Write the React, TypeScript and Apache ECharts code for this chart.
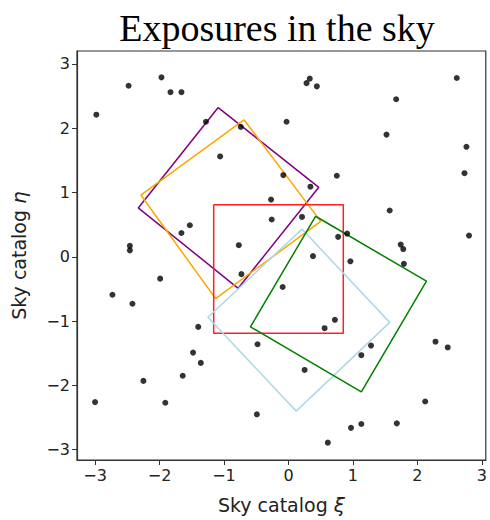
import React, { useEffect, useRef } from "react";
import * as echarts from "echarts";

const xTicks = [-3, -2, -1, 0, 1, 2, 3];
const yTicks = [-3, -2, -1, 0, 1, 2, 3];

const stars: [number, number][] = [
  [-2.98, 2.21], [-2.48, 2.66], [-1.97, 2.79], [-1.83, 2.56], [-1.66, 2.56],
  [-1.28, 2.10], [-0.74, 2.02], [-1.06, 1.56], [-0.27, 0.89], [-0.26, 0.58],
  [-1.53, 0.49], [-1.66, 0.37], [-2.46, 0.17], [-2.46, 0.10], [-0.77, 0.18],
  [0.33, 2.77], [0.28, 2.70], [0.44, 2.65], [2.61, 2.78], [1.67, 2.45],
  [-0.03, 2.10], [1.52, 1.90], [2.76, 1.71], [2.73, 1.30], [-0.08, 1.27],
  [0.75, 1.26], [0.34, 1.09], [0.21, 0.62], [1.57, 0.72], [0.77, 0.31],
  [0.91, 0.36], [2.80, 0.33], [1.74, 0.19], [1.78, 0.12], [0.38, 0.01],
  [-1.99, -0.34], [-2.73, -0.59], [-2.42, -0.73], [-0.73, -0.27], [-1.40, -1.09],
  [-1.48, -1.49], [-1.36, -1.65], [-1.64, -1.85], [-2.25, -1.93], [-3.0, -2.26],
  [-1.91, -2.27], [-0.48, -1.36], [-0.49, -2.45], [0.96, -0.07], [1.79, -0.11],
  [-0.09, -0.47], [0.72, -0.98], [0.56, -1.11], [1.28, -1.38], [1.13, -1.53],
  [2.28, -1.32], [2.47, -1.41], [0.25, -1.76], [2.12, -2.25], [1.13, -2.60],
  [0.97, -2.66], [1.68, -2.59], [0.61, -2.89],
];

const purpleFootprint: [number, number][] = [[-1.09, 2.32], [0.47, 1.08], [-0.78, -0.49], [-2.33, 0.76]];
const orangeFootprint: [number, number][] = [[-0.69, 2.13], [0.50, 0.55], [-1.13, -0.65], [-2.29, 0.96]];
const redFootprint: [number, number][] = [[-1.16, 0.81], [0.85, 0.81], [0.85, -1.19], [-1.16, -1.19]];
const lightblueFootprint: [number, number][] = [[0.21, 0.43], [1.57, -1.02], [0.12, -2.40], [-1.25, -0.94]];
const greenFootprint: [number, number][] = [[0.42, 0.63], [2.14, -0.38], [1.13, -2.10], [-0.59, -1.09]];

const footprints = [
  { name: "purple", color: "#800080", pts: purpleFootprint },
  { name: "orange", color: "#FFA500", pts: orangeFootprint },
  { name: "red", color: "#FF2020", pts: redFootprint },
  { name: "lightblue", color: "#ADD8E6", pts: lightblueFootprint },
  { name: "green", color: "#008000", pts: greenFootprint },
];

const fmt = (v: number) => String(v).replace("-", "\u2212");

export default function App() {
  const ref = useRef<HTMLDivElement>(null);
  useEffect(() => {
    if (!ref.current) return;
    const chart = echarts.init(ref.current, null, { renderer: "svg" });
    const sans = "DejaVu Sans";
    chart.setOption({
      animation: false,
      backgroundColor: "#fff",
      title: {
        text: "Exposures in the sky",
        left: 272,
        textAlign: "center",
        top: 4,
        textStyle: { fontFamily: "Liberation Serif", fontSize: 38, fontWeight: "normal", color: "#000" },
      },
      grid: { left: 77, top: 51, width: 410, height: 412, show: true, borderColor: "#333", borderWidth: 1.2, backgroundColor: "transparent" },
      xAxis: {
        type: "value",
        min: -3.28,
        max: 3.06,
        name: "Sky catalog {i|ξ}",
        nameLocation: "middle",
        nameGap: 35,
        nameTextStyle: { fontFamily: sans, fontSize: 19, color: "#222", rich: { i: { fontFamily: sans, fontSize: 20, fontStyle: "italic", color: "#222" } } },
        splitLine: { show: false },
        axisLine: { show: true, onZero: false, lineStyle: { color: "#333", width: 1.2 } },
        axisTick: { show: true, length: 5, customValues: xTicks, lineStyle: { color: "#333" } },
        axisLabel: { customValues: xTicks, formatter: (v: number) => fmt(v), fontFamily: sans, fontSize: 16, color: "#222", margin: 7 },
      },
      yAxis: {
        type: "value",
        min: -3.16,
        max: 3.2,
        name: "Sky catalog {i|η}",
        nameLocation: "middle",
        nameRotate: 90,
        nameGap: 48,
        nameTextStyle: { fontFamily: sans, fontSize: 19, color: "#222", rich: { i: { fontFamily: sans, fontSize: 20, fontStyle: "italic", color: "#222" } } },
        splitLine: { show: false },
        axisLine: { show: true, onZero: false, lineStyle: { color: "#333", width: 1.2 } },
        axisTick: { show: true, length: 5, customValues: yTicks, lineStyle: { color: "#333" } },
        axisLabel: { customValues: yTicks, formatter: (v: number) => fmt(v), fontFamily: sans, fontSize: 16, color: "#222", margin: 7 },
      },
      series: [
        {
          type: "scatter",
          data: stars,
          symbolSize: 6,
          itemStyle: { color: "#000" },
          z: 3,
        },
        ...footprints.map((f) => ({
          type: "line",
          name: f.name,
          data: [...f.pts, f.pts[0]],
          symbol: "none",
          lineStyle: { color: f.color, width: 1.5 },
          z: 2,
        })),
      ],
    });
    return () => chart.dispose();
  }, []);
  return <div ref={ref} style={{ position: "absolute", left: 0, top: 0, width: 490, height: 520 }} />;
}
